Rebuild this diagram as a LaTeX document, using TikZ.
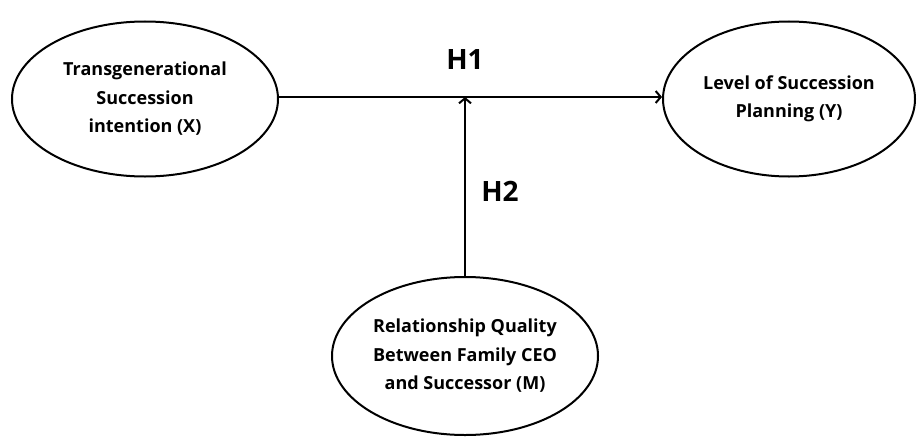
\documentclass[tikz,border=0pt]{standalone}
\usepackage{fontspec}
\setmainfont{Open Sans}
\usepackage{tikz}
\usetikzlibrary{positioning,shapes.geometric,arrows.meta}

\begin{document}
\begin{tikzpicture}[x=1pt,y=-1pt,
	var/.style={ellipse,draw,line width=2pt,inner sep=0pt,align=center,
		font=\fontsize{18}{28.5}\selectfont\bfseries},
	hyp/.style={font=\fontsize{28}{32}\selectfont\bfseries},
	arr/.style={line width=2pt,-{Straight Barb[length=5pt,width=12pt,line width=2pt]}}]
			
			\useasboundingbox (0,0) rectangle (917,436);
			
			\node[var,minimum width=266pt,minimum height=155pt] (x) at (145,99) {Transgenerational\\Succession\\intention (X)};
			\node[var,minimum width=252pt,minimum height=155pt] (y) at (789,99) {Level of Succession\\Planning (Y)};
			\node[var,minimum width=266pt,minimum height=158pt] (m) at (465,356) {Relationship Quality\\Between Family CEO\\and Successor (M)};
			\coordinate (mid) at (465,97);
			
			\node[hyp] (h1) at (465,60) {H1};
			\node[hyp] (h2) at (500,191) {H2};
			
			\draw[arr] (x.east |- mid) -- (y.west |- mid);
			\draw[arr] (m) -- (mid);
			
		\end{tikzpicture}
\end{document}
